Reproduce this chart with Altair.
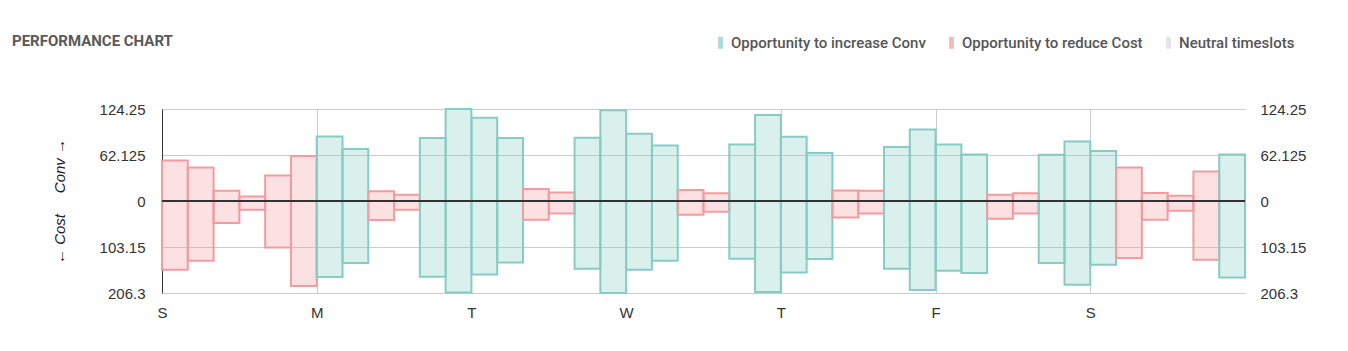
import altair as alt
import pandas as pd

# ---- data ----
days = ["S", "M", "T", "W", "T", "F", "S"]
conv = [54.8, 45.4, 13.9, 6.2, 34.6, 60.8,
        87.2, 70.2, 13.0, 8.5, 85.1, 124.25,
        112.5, 85.1, 16.2, 11.6, 85.5, 122.4,
        90.9, 75.1, 14.9, 10.3, 76.4, 116.1,
        86.8, 64.8, 14.3, 13.9, 72.9, 96.7,
        76.4, 62.9, 8.5, 10.3, 62.5, 80.5,
        67.5, 45.4, 10.8, 7.2, 40.0, 62.9]
cost = [154.1, 133.9, 49.3, 19.5, 104.0, 190.6,
        170.4, 139.0, 42.6, 19.5, 169.7, 205.0,
        164.6, 137.7, 41.9, 27.8, 151.8, 206.3,
        154.1, 133.9, 30.7, 24.0, 129.4, 204.1,
        160.1, 130.1, 36.8, 27.8, 151.8, 199.6,
        156.3, 161.5, 39.7, 27.8, 139.0, 187.7,
        142.8, 127.8, 41.9, 21.8, 131.6, 171.3]
kind = ["R", "R", "R", "R", "R", "R",
        "C", "C", "R", "R", "C", "C",
        "C", "C", "R", "R", "C", "C",
        "C", "C", "R", "R", "C", "C",
        "C", "C", "R", "R", "C", "C",
        "C", "C", "R", "R", "C", "C",
        "C", "R", "R", "R", "R", "C"]
kind_names = {"C": "Opportunity to increase Conv",
              "R": "Opportunity to reduce Cost",
              "N": "Neutral timeslots"}
legend_order = ["Opportunity to increase Conv", "Opportunity to reduce Cost", "Neutral timeslots"]
legend_colors = ["#86ccc4", "#f29ca0", "#d8d8de"]
y_tick_values = [-1, -0.5, 0, 0.5, 1]
y_tick_labels = ["206.3", "103.15", "0", "62.125", "124.25"]
day_tick_values = [0, 6, 12, 18, 24, 30, 36]

df = pd.DataFrame({
    "slot": list(range(len(conv))),
    "conv": conv,
    "cost": cost,
    "kind": [kind_names[k] for k in kind],
})

label_expr = "[" + ",".join("'%s'" % s for s in y_tick_labels) + "][round(datum.value*2)+2]"
day_expr = "[" + ",".join("'%s'" % s for s in days) + "][round(datum.value/6)]"

FONT = "Liberation Sans"

xscale = alt.Scale(domain=[0, len(conv)], nice=False, zero=False)
yscale = alt.Scale(domain=[-1, 1], nice=False, zero=False)
color_scale = alt.Scale(domain=legend_order, range=legend_colors)

base = alt.Chart(df).transform_joinaggregate(
    max_conv="max(conv)", max_cost="max(cost)"
).transform_calculate(
    top="datum.conv / datum.max_conv",
    bot="-datum.cost / datum.max_cost",
    slot2="datum.slot + 1",
)

x_axis = alt.Axis(values=day_tick_values, labelExpr=day_expr, title=None,
                  grid=True, gridColor="#cccccc", domain=False, ticks=False,
                  labelPadding=12, labelFont=FONT, labelFontSize=15, labelColor="#333333",
                  labelAlign="center", labelFlush=False, labelOverlap=False)

left_axis = alt.Axis(orient="left", values=y_tick_values, labelExpr=label_expr,
                     title="\u2190 Cost\u00a0\u00a0\u00a0\u00a0\u00a0Conv \u2192",
                     titleFont=FONT, titleFontSize=15, titleFontStyle="italic",
                     titleFontWeight="normal", titleColor="#1a1a30",
                     titleAngle=-90, titleX=-103, titleY=92, titleAlign="center",
                     titleBaseline="middle",
                     grid=True, gridColor="#cccccc", domain=True, domainColor="#333333",
                     ticks=False, labelPadding=17, labelFont=FONT, labelFontSize=15,
                     labelColor="#333333")

right_axis = alt.Axis(orient="right", values=y_tick_values, labelExpr=label_expr,
                      title=None, grid=False, domain=False, ticks=False, labelPadding=15,
                      labelFont=FONT, labelFontSize=15, labelColor="#333333")

bars = base.mark_bar(fillOpacity=0.3, strokeWidth=2, strokeOpacity=1).encode(
    x=alt.X("slot:Q", scale=xscale, axis=x_axis),
    x2="slot2:Q",
    y=alt.Y("top:Q", scale=yscale, axis=left_axis),
    y2="bot:Q",
    color=alt.Color("kind:N", scale=color_scale, title=None,
                    legend=alt.Legend(orient="none", direction="horizontal",
                                      legendX=551, legendY=-74, padding=0,
                                      symbolType="M-0.4,-1H0.4V1H-0.4Z", symbolSize=144,
                                      symbolOpacity=0.7, symbolStrokeWidth=0,
                                      labelFont="Roboto", labelFontSize=15,
                                      labelFontWeight=500, labelColor="#555555",
                                      labelLimit=0, labelOffset=3, columnPadding=18,
                                      values=legend_order)),
    stroke=alt.Stroke("kind:N", scale=color_scale, legend=None),
)

right = base.mark_bar(opacity=0).encode(
    x=alt.X("slot:Q", scale=xscale, axis=x_axis),
    x2="slot2:Q",
    y=alt.Y("top:Q", scale=yscale, axis=right_axis),
    y2="bot:Q",
)

zero = alt.Chart(df).mark_rule(color="#333333", strokeWidth=1).encode(
    y=alt.Y(datum=0, scale=yscale, axis=None)
)

chart = alt.layer(bars, right, zero).resolve_axis(y="independent").properties(
    width=1083,
    height=184,
    autosize=alt.AutoSizeParams(type="none"),
    padding={"left": 162, "top": 109, "right": 103, "bottom": 58},
    title=alt.TitleParams("PERFORMANCE CHART", anchor="start", frame="group", dx=-150,
                          offset=0, dy=14, font="Roboto", fontSize=15, fontWeight="bold",
                          color="#595959"),
).configure_view(stroke=None)

chart.save("out.html", embed_options={"renderer": "svg", "actions": False})
